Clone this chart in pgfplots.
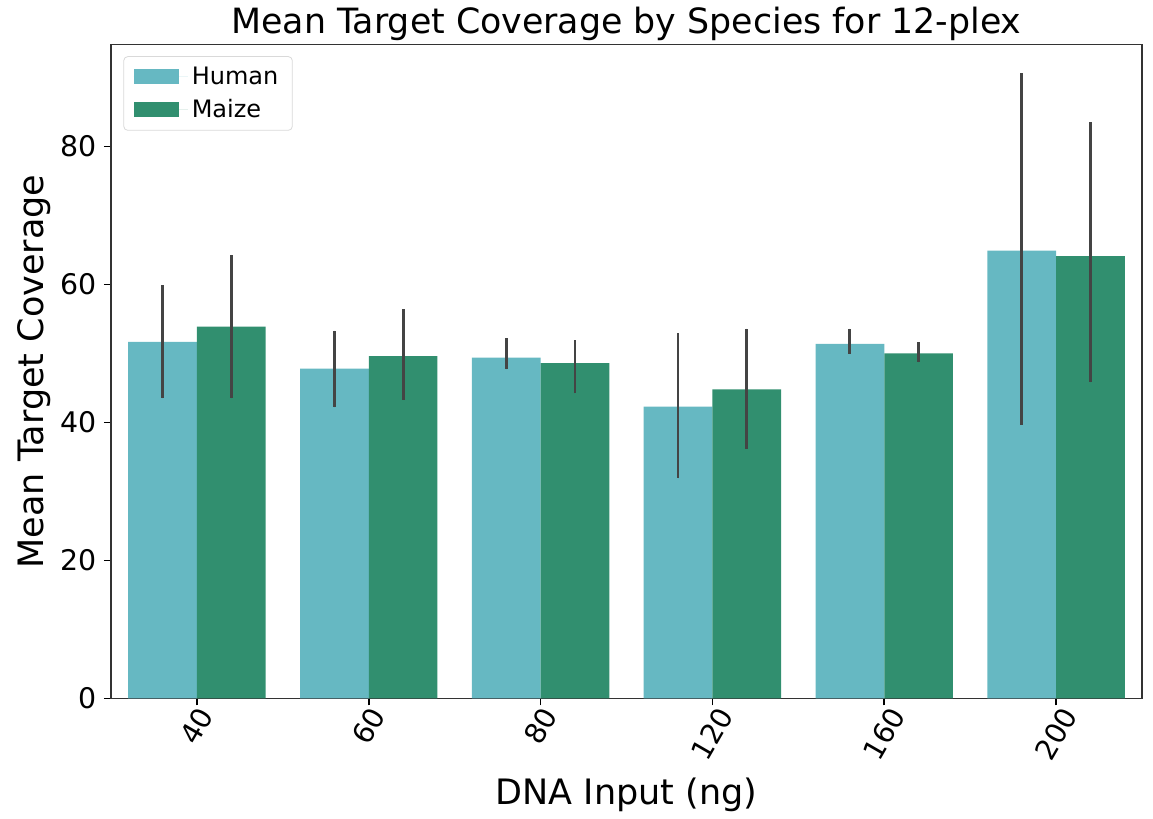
\documentclass[border=0pt]{standalone}
\usepackage{fontspec}
\setmainfont{DejaVu Sans}
\usepackage{graphicx}
\usepackage{pgfplots}
\pgfplotsset{compat=1.18}
\definecolor{human}{HTML}{66B8C2}
\definecolor{maize}{HTML}{318F6F}
\definecolor{errc}{HTML}{444444}
\begin{document}
\begin{tikzpicture}
\begin{axis}[
  scale only axis,
  width=515.5pt, height=327pt,
  xmin=-0.5, xmax=5.5,
  ymin=0, ymax=94.8,
  xtick={0,1,2,3,4,5},
  xticklabels={\rotatebox{60}{40},\rotatebox{60}{60},\rotatebox{60}{80},\rotatebox{60}{120},\rotatebox{60}{160},\rotatebox{60}{200}},
  x tick label style={anchor=north, font=\fontsize{14.2}{16}\selectfont, inner sep=0pt, yshift=0.5pt},
  ytick={0,20,40,60,80},
  y tick label style={font=\fontsize{14.2}{16}\selectfont},
  /pgf/number format/assume math mode=true,
  tick align=outside,
  tick pos=left,
  major tick length=3.5pt,
  every tick/.style={black, line width=0.8pt},
  axis line style={line width=0.6pt, black!80},
  title={Mean Target Coverage by Species for 12-plex},
  title style={font=\fontsize{17.4}{20}\selectfont, yshift=-7.5pt},
  xlabel={DNA Input (ng)},
  ylabel={Mean Target Coverage},
  xlabel style={font=\fontsize{17.5}{20}\selectfont, yshift=-4pt},
  ylabel style={font=\fontsize{17.5}{20}\selectfont, yshift=-2pt},
  legend style={at={(0.012,0.982)}, anchor=north west, draw=black!15, rounded corners=2pt,
    font=\fontsize{12}{14}\selectfont, row sep=2pt, inner xsep=5pt, inner ysep=3pt},
  legend cell align=left,
  legend image code/.code={\fill[#1, sharp corners] (0pt,-3.8pt) rectangle (22.5pt,3.8pt); \path (0pt,0pt) -- (27pt,0pt);},
  error bars/error bar style={line width=1.4pt, errc},
  error bars/error mark=none,
]
\addplot[ybar, bar width=0.4, bar shift=0, fill=human, draw=none,
  error bars/.cd, y dir=both, y explicit]
coordinates {
  (-0.2,51.7) += (0,8.2) -= (0,8.2)
  (0.8,47.8) += (0,5.5) -= (0,5.6)
  (1.8,49.4) += (0,2.8) -= (0,1.7)
  (2.8,42.3) += (0,10.6) -= (0,10.4)
  (3.8,51.4) += (0,2.2) -= (0,1.5)
  (4.8,64.9) += (0,25.7) -= (0,25.2)
};
\addlegendentry{Human}
\addplot[ybar, bar width=0.4, bar shift=0, fill=maize, draw=none,
  error bars/.cd, y dir=both, y explicit]
coordinates {
  (0.2,53.9) += (0,10.4) -= (0,10.4)
  (1.2,49.6) += (0,6.8) -= (0,6.3)
  (2.2,48.6) += (0,3.3) -= (0,4.4)
  (3.2,44.8) += (0,8.8) -= (0,8.6)
  (4.2,50.0) += (0,1.6) -= (0,1.3)
  (5.2,64.1) += (0,19.4) -= (0,18.3)
};
\addlegendentry{Maize}
\end{axis}
\path (current axis.south west) ++(-55.5pt,-58pt) coordinate (bbA);
\path (current axis.north east) ++(5.5pt,22pt) coordinate (bbB);
\path (bbA) rectangle (bbB);
\end{tikzpicture}
\end{document}
